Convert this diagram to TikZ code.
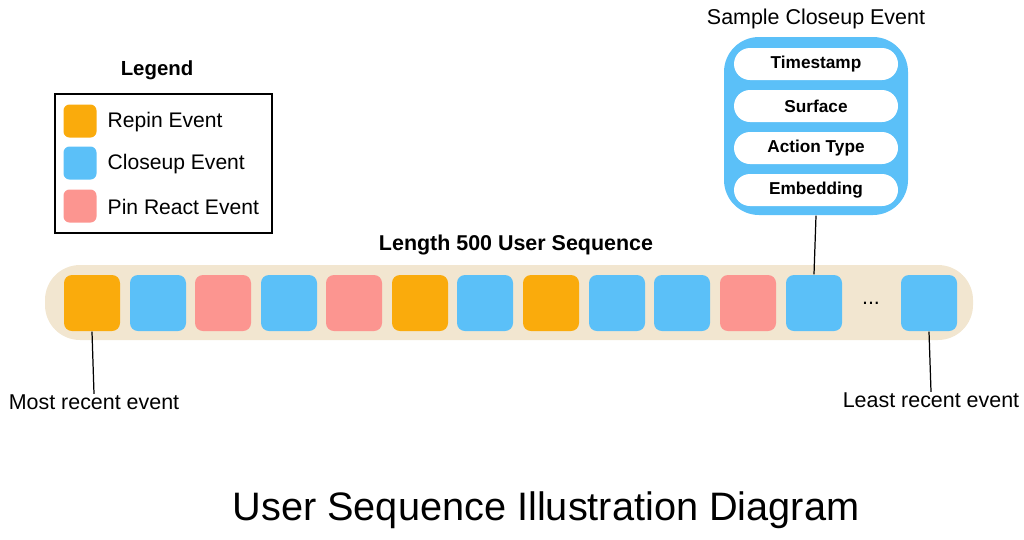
\documentclass[tikz,border=0pt]{standalone}
\usepackage{fontspec}
\setmainfont{Liberation Sans}
\definecolor{orng}{HTML}{FAAB0C}
\definecolor{blu}{HTML}{5BC0F8}
\definecolor{pnk}{HTML}{FC9590}
\definecolor{beig}{HTML}{F2E6D0}
\begin{document}
\begin{tikzpicture}[x=0.1mm,y=-0.1mm,
  sq/.style={minimum width=5.6mm,minimum height=5.6mm,rounded corners=0.8mm,inner sep=0},
  lsq/.style={minimum width=3.3mm,minimum height=3.3mm,rounded corners=0.6mm,inner sep=0},
  pill/.style={fill=white,minimum width=16.4mm,minimum height=3.2mm,rounded corners=1.6mm,inner sep=0,font=\fontsize{4.9}{5}\selectfont\bfseries},
  lbl/.style={font=\fontsize{6.0}{7}\selectfont,anchor=west,inner sep=0},
  captxt/.style={font=\fontsize{6.1}{7}\selectfont,inner sep=0},
  ln/.style={line width=0.35pt}]
\useasboundingbox (0,0) rectangle (1024,539);
% legend
\node[font=\fontsize{5.8}{7}\selectfont\bfseries] (legt) at (157,70) {Legend};
\draw[line width=0.55pt] (55,94) rectangle (272,233);
\node[lsq,fill=orng] (l1) at (80,121) {};
\node[lsq,fill=blu] (l2) at (80,163) {};
\node[lsq,fill=pnk] (l3) at (80,206) {};
\node[lbl] (t1) at (107,122) {Repin Event};
\node[lbl] (t2) at (107,164) {Closeup Event};
\node[lbl] (t3) at (107,207) {Pin React Event};
% sequence
\node[font=\fontsize{6.1}{7}\selectfont\bfseries] (seqt) at (516,245) {Length 500 User Sequence};
\fill[beig,rounded corners=3.5mm] (45,265) rectangle (973,340);
\node[sq,fill=orng] (s1) at (92,303) {};
\node[sq,fill=blu] (s2) at (158,303) {};
\node[sq,fill=pnk] (s3) at (223,303) {};
\node[sq,fill=blu] (s4) at (289,303) {};
\node[sq,fill=pnk] (s5) at (354,303) {};
\node[sq,fill=orng] (s6) at (420,303) {};
\node[sq,fill=blu] (s7) at (485,303) {};
\node[sq,fill=orng] (s8) at (551,303) {};
\node[sq,fill=blu] (s9) at (617,303) {};
\node[sq,fill=blu] (s10) at (682,303) {};
\node[sq,fill=pnk] (s11) at (748,303) {};
\node[sq,fill=blu] (s12) at (814,303) {};
\node[captxt] (dots) at (871,303) {...};
\node[sq,fill=blu] (s13) at (929,303) {};
% closeup box
\node[captxt] (cbt) at (816,19) {Sample Closeup Event};
\node[fill=blu,rounded corners=3.5mm,minimum width=18.4mm,minimum height=17.8mm,inner sep=0] (cb) at (816,126) {};
\node[pill] (p1) at (816,64) {Timestamp};
\node[pill] (p2) at (816,106) {Surface};
\node[pill] (p3) at (816,148) {Action Type};
\node[pill] (p4) at (816,190) {Embedding};
\draw[ln] (cb.south) -- (s12.north);
% end labels
\node[captxt] (most) at (94,402) {Most recent event};
\node[captxt] (least) at (931,400) {Least recent event};
\draw[ln] (s1.south) -- (most.north);
\draw[ln] (s13.south) -- (least.north);
\node[font=\fontsize{11.3}{14}\selectfont] (title) at (546,510) {User Sequence Illustration Diagram};
\end{tikzpicture}
\end{document}
